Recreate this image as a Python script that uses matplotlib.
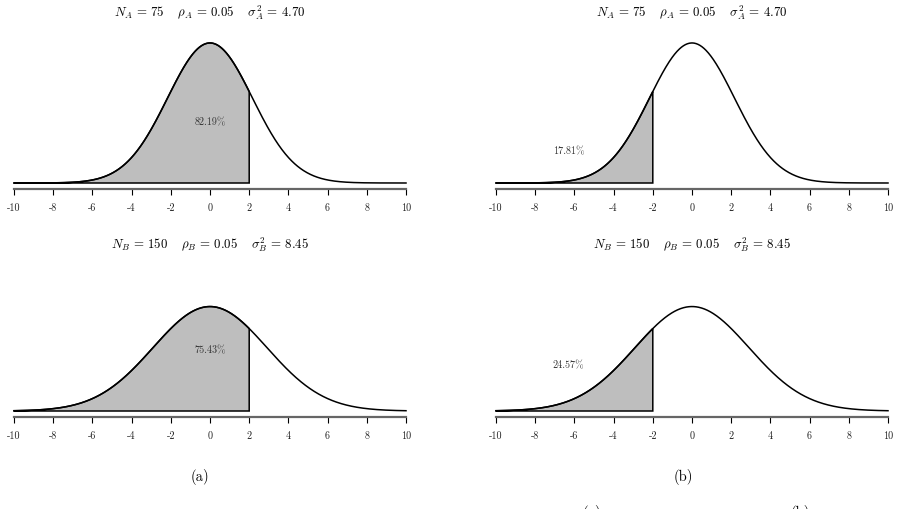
import numpy as np
import matplotlib
matplotlib.use("Agg")
import matplotlib.pyplot as plt

plt.rcParams['font.family'] = ['cmr10', 'DejaVu Serif']
plt.rcParams['mathtext.fontset'] = 'cm'
plt.rcParams['axes.unicode_minus'] = False

# panel data
variances = [4.70, 4.70, 8.45, 8.45]
titles = [r"$N_A \,=\, 75 \quad\; \rho_A \,=\, 0.05 \quad\; \sigma_A^2 \,=\, 4.70$",
          r"$N_A \,=\, 75 \quad\; \rho_A \,=\, 0.05 \quad\; \sigma_A^2 \,=\, 4.70$",
          r"$N_B \,=\, 150 \quad\; \rho_B \,=\, 0.05 \quad\; \sigma_B^2 \,=\, 8.45$",
          r"$N_B \,=\, 150 \quad\; \rho_B \,=\, 0.05 \quad\; \sigma_B^2 \,=\, 8.45$"]
shade_from = [-10, -10, -10, -10]
shade_to = [2, -2, 2, -2]
pct_labels = ["82.19%", "17.81%", "75.43%", "24.57%"]
pct_x = [0.0, -6.3, 0.0, -6.3]
pct_y = [0.080, 0.041, 0.080, 0.060]
xticks = [-10, -8, -6, -4, -2, 0, 2, 4, 6, 8, 10]
captions = ["(a)", "(b)"]

fig = plt.figure(figsize=(9, 5.09), dpi=100)

W, H = 900, 509
ax_h = 144.6
lefts = [14, 496, 14, 496]
bases = [183, 183, 411, 411]
title_y = [1.176, 1.176, 1.148, 1.148]

x = np.linspace(-10, 10, 800)
for i in range(4):
    ax = fig.add_axes([lefts[i] / W, 1 - bases[i] / H, 392 / W, ax_h / H])
    y = np.exp(-x ** 2 / (2 * variances[i])) / np.sqrt(2 * np.pi * variances[i])
    m = (x >= shade_from[i]) & (x <= shade_to[i])
    xs = np.concatenate([[shade_from[i]], x[m], [shade_to[i]]])
    ys_top = np.exp(-xs ** 2 / (2 * variances[i])) / np.sqrt(2 * np.pi * variances[i])
    px = np.concatenate([xs, [shade_to[i], shade_from[i]]])
    py = np.concatenate([ys_top, [0, 0]])
    ax.fill(px, py, facecolor='#bebebe', edgecolor='black', linewidth=1.1, clip_on=False)
    ax.plot(x, y, color='black', linewidth=1.1, clip_on=False)
    ax.text(pct_x[i], pct_y[i], pct_labels[i], fontsize=7.3, color='#333333',
            ha='center', va='center')
    ax.text(0.5, title_y[i], titles[i], transform=ax.transAxes, ha='center',
            va='center', fontsize=9.3)
    ax.set_xlim(-10, 10)
    ax.set_ylim(0, 0.19)
    for s in ['top', 'left', 'right']:
        ax.spines[s].set_visible(False)
    ax.spines['bottom'].set_position(('outward', 4.5))
    ax.spines['bottom'].set_color('#666666')
    ax.spines['bottom'].set_linewidth(1.6)
    ax.set_yticks([])
    ax.set_xticks(xticks)
    ax.set_xticklabels([str(t) for t in xticks])
    ax.tick_params(axis='x', direction='out', length=4.3, width=0.8, color='black',
                   labelsize=7.3, pad=6, labelcolor='#222222')
    ax.patch.set_alpha(0)

fig.text(200 / W, 1 - 477 / H, captions[0], ha='center', va='center', fontsize=10.5)
fig.text(683 / W, 1 - 477 / H, captions[1], ha='center', va='center', fontsize=10.5)
# caption line of the next figure, cut by the bottom edge as in the reference
fig.text(592 / W, 1 - 513 / H, captions[0], ha='center', va='center', fontsize=10.5)
fig.text(800 / W, 1 - 513 / H, captions[1], ha='center', va='center', fontsize=10.5)

fig.savefig("out.png", dpi=100)
